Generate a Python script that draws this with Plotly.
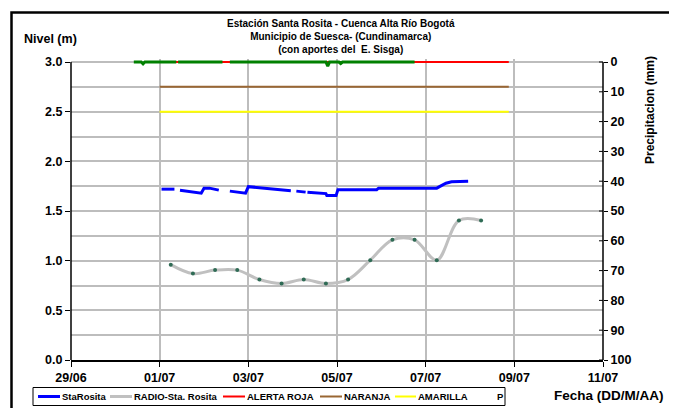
import plotly.graph_objects as go

# ---------------- data ----------------
sta_times = ["2013-07-01 01:00", "2013-07-01 08:00", None, "2013-07-01 11:00", "2013-07-01 22:30",
             "2013-07-02 00:00", "2013-07-02 03:00", "2013-07-02 08:00", None,
             "2013-07-02 14:00", "2013-07-02 22:30", "2013-07-03 00:00", "2013-07-03 06:00",
             "2013-07-03 11:00", "2013-07-03 18:00", "2013-07-03 23:00", None,
             "2013-07-04 02:00", "2013-07-04 07:00", None, "2013-07-04 08:00", "2013-07-04 14:00",
             "2013-07-04 18:00", "2013-07-04 18:30", "2013-07-04 23:30", "2013-07-05 00:30",
             "2013-07-05 21:30", "2013-07-05 22:30", "2013-07-07 06:00", "2013-07-07 08:30",
             "2013-07-07 11:00", "2013-07-07 14:00", "2013-07-07 23:00"]
sta_level = [1.72, 1.72, None, 1.71, 1.68,
             1.73, 1.73, 1.71, None,
             1.70, 1.68, 1.745, 1.735,
             1.72, 1.715, 1.705, None,
             1.70, 1.69, None, 1.69, 1.68,
             1.675, 1.655, 1.655, 1.715,
             1.715, 1.73, 1.73, 1.755,
             1.78, 1.795, 1.80]

radio_times = ["2013-07-01 06:00", "2013-07-01 18:00", "2013-07-02 06:00", "2013-07-02 18:00",
               "2013-07-03 06:00", "2013-07-03 18:00", "2013-07-04 06:00", "2013-07-04 18:00",
               "2013-07-05 06:00", "2013-07-05 18:00", "2013-07-06 06:00", "2013-07-06 18:00",
               "2013-07-07 06:00", "2013-07-07 18:00", "2013-07-08 06:00"]
radio_level = [0.96, 0.87, 0.905, 0.905, 0.81, 0.77, 0.81, 0.77,
               0.81, 1.005, 1.21, 1.21, 1.005, 1.405, 1.405]

alert_times = ["2013-07-01 00:00", "2013-07-08 21:00"]
alerta_roja = [3.0, 3.0]
naranja = [2.75, 2.75]
amarilla = [2.5, 2.5]

p_times = ["2013-06-30 10:00", "2013-06-30 14:00", "2013-06-30 15:00", "2013-06-30 16:00",
           "2013-07-01 09:00", None, "2013-07-01 10:00", "2013-07-02 10:00", None,
           "2013-07-02 14:00", "2013-07-04 18:00", "2013-07-04 19:00", "2013-07-04 20:00",
           "2013-07-05 01:00", "2013-07-05 02:00", "2013-07-05 03:00", "2013-07-06 18:00"]
p_mm = [0, 0, 0.6, 0, 0, None, 0, 0, None, 0, 0, 1.4, 0, 0, 0.5, 0, 0]

x_range = ["2013-06-29 00:00", "2013-07-11 00:00"]
level_ticks = [0, 0.5, 1.0, 1.5, 2.0, 2.5, 3.0]
level_minor = [0.25, 0.75, 1.25, 1.75, 2.25, 2.75]
precip_ticks = [0, 10, 20, 30, 40, 50, 60, 70, 80, 90, 100]

legend_names = ["StaRosita", "RADIO-Sta. Rosita", "ALERTA ROJA", "NARANJA", "AMARILLA", "P"]
legend_colors = ["#0000ff", "#c0c0c0", "#ff0000", "#996633", "#ffff00", "#008000"]

# ---------------- figure ----------------
FONT = "Arial, Liberation Sans, sans-serif"
GRID = "#bdbdbd"
fig = go.Figure()

fig.add_trace(go.Scatter(x=alert_times, y=amarilla, name="AMARILLA", mode="lines",
                         line=dict(color="#ffff00", width=2)))
fig.add_trace(go.Scatter(x=alert_times, y=naranja, name="NARANJA", mode="lines",
                         line=dict(color="#996633", width=2)))
fig.add_trace(go.Scatter(x=alert_times, y=alerta_roja, name="ALERTA ROJA", mode="lines",
                         line=dict(color="#ff0000", width=2)))
fig.add_trace(go.Scatter(x=radio_times, y=radio_level, name="RADIO-Sta. Rosita",
                         mode="lines+markers",
                         line=dict(color="#c0c0c0", width=3, shape="spline", smoothing=1.0),
                         marker=dict(color="#2f6b55", size=4)))
fig.add_trace(go.Scatter(x=sta_times, y=sta_level, name="StaRosita", mode="lines",
                         line=dict(color="#0000ff", width=3), connectgaps=False))
fig.add_trace(go.Scatter(x=p_times, y=p_mm, name="P", mode="lines", yaxis="y2",
                         line=dict(color="#008000", width=3)))

# page is rendered with an 8px body margin -> figure placed at (8, 8)
OFF = 8
W, H = 677 - OFF, 408 - OFF
L, T = 71 - OFF, 59 - OFF
R = W - (603 - OFF)
B = H - (360 - OFF)
pw, ph = W - L - R, H - T - B
def px(x):   # page pixel x -> paper
    return (x - OFF - L) / pw
def py(y):   # page pixel y -> paper
    return (H - B - (y - OFF)) / ph

ytop = 3.0 + 3 / (298 / 3.0)
y2top = -3 / (298 / 100.0)
TICKF = dict(size=12.5, family=FONT, weight="bold")

fig.update_layout(
    width=W, height=H,
    margin=dict(l=L, r=R, t=T, b=B, autoexpand=False),
    paper_bgcolor="white", plot_bgcolor="white",
    font=dict(family=FONT, color="black"),
    showlegend=False,
    xaxis=dict(type="date", range=x_range, tick0="2013-06-29", dtick=2 * 86400000,
               tickformat="%d/%m", showgrid=True, gridcolor=GRID, gridwidth=1.5,
               showline=True, linecolor="black", linewidth=1.5, ticks="outside",
               ticklen=5, tickcolor="black", zeroline=False, tickfont=TICKF),
    yaxis=dict(range=[0, ytop], tickvals=level_ticks, tickformat=".1f",
               showgrid=True, gridcolor=GRID, gridwidth=1.5,
               minor=dict(tickvals=level_minor, showgrid=True, gridcolor=GRID, gridwidth=1.5),
               showline=False, ticks="outside", ticklen=5, tickcolor="black",
               zeroline=False, tickfont=TICKF),
    yaxis2=dict(range=[100, y2top], overlaying="y", side="right",
                tickvals=precip_ticks,
                showgrid=False, showline=False, ticks="outside", ticklen=4, tickcolor="black",
                zeroline=False, tickfont=TICKF),
)

shapes = [
    dict(type="line", xref="paper", yref="y", x0=0, x1=0, y0=0, y1=3.0,
         line=dict(color="black", width=1.5)),
    dict(type="line", xref="paper", yref="y", x0=1, x1=1, y0=0, y1=3.0,
         line=dict(color="black", width=1.5)),
    dict(type="rect", xref="paper", yref="paper", x0=px(11.5), x1=px(670.5), y0=py(430),
         y1=py(12.5), line=dict(color="black", width=2.5), layer="above"),
]
for v in precip_ticks:
    shapes.append(dict(type="line", xref="paper", yref="y2", x0=1 - 4 / pw, x1=1, y0=v, y1=v,
                       line=dict(color="black", width=1)))

# manual legend (Excel style)
leg_y = 396.5
shapes.append(dict(type="rect", xref="paper", yref="paper", x0=px(33), x1=px(505),
                   y0=py(405.5), y1=py(387.5), line=dict(color="black", width=1),
                   fillcolor="white", layer="above"))
sym_x = [(38, 60), (110, 132), (223, 245), (320, 342), (395, 416), None]
txt_x = [60, 132, 245, 342, 416, 495]
for i, name in enumerate(legend_names):
    if sym_x[i] is not None:
        x0, x1 = sym_x[i]
        shapes.append(dict(type="line", xref="paper", yref="paper", x0=px(x0), x1=px(x1),
                           y0=py(leg_y), y1=py(leg_y), layer="above",
                           line=dict(color=legend_colors[i], width=3 if i < 2 else 2)))
fig.update_layout(shapes=shapes)

ann = [
    dict(text="<b>Estación Santa Rosita - Cuenca Alta Río Bogotá<br>Municipio de Suesca- (Cundinamarca)<br>(con aportes del  E. Sisga)</b>",
         x=px(341), y=py(36), xanchor="center", yanchor="middle", font=dict(size=10, family=FONT)),
    dict(text="<b>Nivel (m)</b>", x=px(22), y=py(39), xanchor="left", yanchor="middle",
         font=dict(size=12.5, family=FONT)),
    dict(text="<b>Precipitacion (mm)</b>", x=px(650), y=py(110), xanchor="center", yanchor="middle",
         textangle=-90, font=dict(size=12, family=FONT)),
    dict(text="<b>Fecha (DD/M/AA)</b>", x=px(666), y=py(396), xanchor="right", yanchor="middle",
         font=dict(size=13.5, family=FONT)),
]
for i, name in enumerate(legend_names):
    ann.append(dict(text="<b>" + name + "</b>", x=px(txt_x[i]), y=py(leg_y), xanchor="left",
                    yanchor="middle", font=dict(size=9.5, family=FONT)))
for a in ann:
    a.update(xref="paper", yref="paper", showarrow=False)
fig.update_layout(annotations=ann)

# legend markers (dots)
fig.add_trace(go.Scatter(x=[px(121.5), px(482)], y=[py(leg_y), py(leg_y)], xaxis="x2", yaxis="y3",
                         mode="markers", marker=dict(color=["#2f6b55", "#008000"], size=[4, 4],
                                                      symbol=["circle", "square"]),
                         hoverinfo="skip", cliponaxis=False))
fig.update_layout(
    xaxis2=dict(range=[0, 1], domain=[0, 1], visible=False, anchor="y3", overlaying="x"),
    yaxis3=dict(range=[0, 1], domain=[0, 1], visible=False, anchor="x2", overlaying="y"),
)

fig.write_html("out.html")
